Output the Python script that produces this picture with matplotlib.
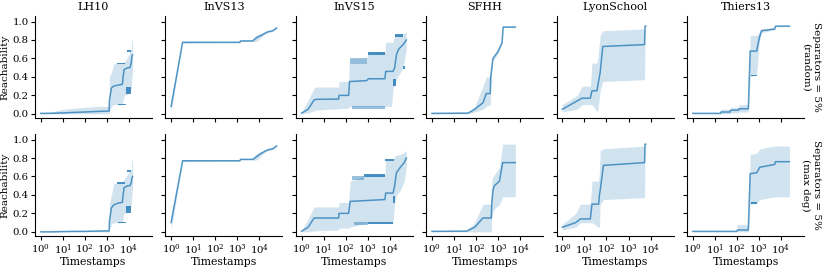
import matplotlib
matplotlib.use("Agg")
import matplotlib.pyplot as plt
import numpy as np

plt.rcParams['font.family'] = ['DejaVu Serif']
plt.rcParams['mathtext.fontset'] = 'dejavuserif'
plt.rcParams['font.size'] = 7.5

datasets = ["LH10", "InVS13", "InVS15", "SFHH", "LyonSchool", "Thiers13"]
row_labels = ["Separators = 5%\n(random)", "Separators = 5%\n(max deg)"]
xlabel = "Timestamps"
ylabel = "Reachability"
yticks = [0.0, 0.2, 0.4, 0.6, 0.8, 1.0]
xticks = [1, 10, 100, 1000, 10000]

# dark blocks: (t_start, t_end, y_low, y_high, opacity) where the band edge flickers densely

# ---------------- row 1: random separators ----------------
lh10_r_t = [1, 3, 10, 30, 100, 300, 1000, 1250, 1300, 1600, 2000, 3000, 5000, 5400, 6000, 9000, 11000, 12600, 13500, 14500]
lh10_r_mean = [0.005, 0.006, 0.01, 0.015, 0.02, 0.025, 0.03, 0.03, 0.15, 0.28, 0.30, 0.31, 0.32, 0.40, 0.48, 0.50, 0.50, 0.55, 0.62, 0.64]
lh10_r_hi = [0.01, 0.02, 0.05, 0.06, 0.07, 0.08, 0.08, 0.08, 0.40, 0.45, 0.54, 0.55, 0.55, 0.56, 0.56, 0.62, 0.68, 0.70, 0.78, 0.82]
lh10_r_lo = [0, 0, 0, 0, 0, 0, 0, 0, 0.02, 0.08, 0.10, 0.10, 0.10, 0.15, 0.20, 0.22, 0.25, 0.28, 0.40, 0.47]
lh10_r_dark = [(2900, 6300, 0.535, 0.555, 0.8), (3200, 7000, 0.095, 0.11, 0.8), (7000, 12500, 0.21, 0.29, 0.8), (8000, 12500, 0.675, 0.695, 0.8)]

invs13_r_t = [1, 3.3, 100, 1300, 1400, 5000, 5500, 8000, 12000, 20000, 25000, 40000, 60000]
invs13_r_mean = [0.08, 0.775, 0.775, 0.775, 0.79, 0.79, 0.80, 0.83, 0.85, 0.88, 0.89, 0.90, 0.93]
invs13_r_hi = [0.15, 0.785, 0.78, 0.78, 0.795, 0.80, 0.83, 0.86, 0.87, 0.89, 0.90, 0.91, 0.935]
invs13_r_lo = [0.03, 0.765, 0.77, 0.77, 0.785, 0.785, 0.78, 0.79, 0.83, 0.87, 0.88, 0.89, 0.925]
invs13_r_dark = []

invs15_r_t = [1, 2, 3.7, 4.4, 48, 50, 136, 150, 900, 1070, 6000, 6500, 12000, 14000, 16600, 20000, 25000, 30000, 40000, 56000]
invs15_r_mean = [0.007, 0.05, 0.15, 0.157, 0.16, 0.20, 0.20, 0.35, 0.36, 0.38, 0.38, 0.46, 0.46, 0.46, 0.50, 0.64, 0.70, 0.72, 0.75, 0.80]
invs15_r_hi = [0.01, 0.15, 0.28, 0.29, 0.29, 0.35, 0.35, 0.60, 0.61, 0.67, 0.67, 0.775, 0.775, 0.775, 0.85, 0.86, 0.86, 0.86, 0.87, 0.88]
invs15_r_lo = [0.0, 0.01, 0.03, 0.04, 0.055, 0.057, 0.06, 0.08, 0.08, 0.08, 0.08, 0.08, 0.08, 0.28, 0.32, 0.38, 0.42, 0.45, 0.50, 0.70]
invs15_r_dark = [(1070, 6000, 0.635, 0.665, 0.8), (160, 900, 0.54, 0.605, 0.35), (200, 6000, 0.055, 0.08, 0.45),
                 (16600, 40000, 0.835, 0.86, 0.8), (14000, 20000, 0.30, 0.38, 0.8), (40000, 48000, 0.49, 0.52, 0.8)]

sfhh_r_t = [1, 44, 87, 205, 290, 440, 460, 580, 960, 1500, 1700, 6000]
sfhh_r_mean = [0.005, 0.008, 0.05, 0.12, 0.22, 0.22, 0.40, 0.60, 0.67, 0.77, 0.94, 0.94]
sfhh_r_hi = [0.01, 0.015, 0.08, 0.30, 0.40, 0.40, 0.45, 0.62, 0.69, 0.78, 0.945, 0.945]
sfhh_r_lo = [0.0, 0.0, 0.02, 0.05, 0.08, 0.10, 0.30, 0.57, 0.65, 0.76, 0.935, 0.935]
sfhh_r_dark = []

lyon_r_t = [1, 4.7, 7.9, 18.6, 22, 37, 40, 52, 68, 5300, 5600, 6000]
lyon_r_mean = [0.05, 0.14, 0.17, 0.17, 0.25, 0.25, 0.30, 0.45, 0.73, 0.75, 0.95, 0.95]
lyon_r_hi = [0.10, 0.20, 0.30, 0.30, 0.55, 0.55, 0.60, 0.85, 0.90, 0.92, 0.955, 0.955]
lyon_r_lo = [0.02, 0.05, 0.10, 0.10, 0.10, 0.03, 0.03, 0.25, 0.35, 0.37, 0.945, 0.945]
lyon_r_dark = []

thiers_r_t = [1, 18, 19, 50, 52, 120, 125, 330, 400, 790, 1030, 1300, 5200, 5600, 24000]
thiers_r_mean = [0.005, 0.005, 0.02, 0.02, 0.04, 0.04, 0.055, 0.055, 0.68, 0.68, 0.82, 0.90, 0.92, 0.95, 0.95]
thiers_r_hi = [0.005, 0.005, 0.05, 0.05, 0.07, 0.07, 0.10, 0.10, 0.85, 0.85, 0.88, 0.92, 0.93, 0.955, 0.955]
thiers_r_lo = [0.0, 0.0, 0.0, 0.0, 0.01, 0.01, 0.02, 0.02, 0.40, 0.42, 0.78, 0.88, 0.91, 0.945, 0.945]
thiers_r_dark = [(450, 790, 0.405, 0.425, 0.8)]

# ---------------- row 2: max-degree separators ----------------
lh10_m_t = [1, 3, 10, 30, 100, 300, 1000, 1250, 1300, 1600, 2000, 3000, 5000, 5400, 6000, 9000, 11000, 12600, 13500, 14500]
lh10_m_mean = [0.0, 0.0, 0.003, 0.005, 0.005, 0.008, 0.01, 0.01, 0.12, 0.26, 0.29, 0.31, 0.32, 0.40, 0.48, 0.50, 0.50, 0.53, 0.58, 0.60]
lh10_m_hi = [0.0, 0.005, 0.01, 0.012, 0.015, 0.015, 0.02, 0.02, 0.30, 0.40, 0.52, 0.53, 0.53, 0.55, 0.57, 0.63, 0.66, 0.67, 0.76, 0.80]
lh10_m_lo = [0, 0, 0, 0, 0, 0, 0, 0, 0.02, 0.08, 0.10, 0.10, 0.10, 0.15, 0.20, 0.22, 0.25, 0.28, 0.40, 0.45]
lh10_m_dark = [(2900, 6300, 0.515, 0.535, 0.8), (3200, 7000, 0.095, 0.11, 0.8), (7000, 12500, 0.20, 0.28, 0.8), (8000, 12500, 0.645, 0.665, 0.8)]

invs13_m_t = invs13_r_t
invs13_m_mean = [0.10, 0.77, 0.77, 0.77, 0.785, 0.785, 0.79, 0.82, 0.85, 0.88, 0.89, 0.90, 0.93]
invs13_m_hi = [0.18, 0.78, 0.775, 0.775, 0.79, 0.795, 0.82, 0.85, 0.87, 0.89, 0.90, 0.91, 0.935]
invs13_m_lo = [0.03, 0.76, 0.765, 0.765, 0.78, 0.78, 0.775, 0.78, 0.83, 0.87, 0.88, 0.89, 0.925]
invs13_m_dark = []

invs15_m_t = [1, 2, 3.7, 48, 50, 136, 160, 1000, 6000, 6500, 14000, 16600, 20000, 30000, 45000, 56000]
invs15_m_mean = [0.007, 0.05, 0.15, 0.15, 0.20, 0.20, 0.33, 0.34, 0.35, 0.42, 0.42, 0.50, 0.64, 0.70, 0.75, 0.80]
invs15_m_hi = [0.01, 0.14, 0.27, 0.27, 0.32, 0.32, 0.55, 0.62, 0.62, 0.78, 0.78, 0.82, 0.83, 0.84, 0.86, 0.88]
invs15_m_lo = [0.0, 0.0, 0.01, 0.02, 0.04, 0.04, 0.05, 0.10, 0.10, 0.10, 0.10, 0.32, 0.40, 0.45, 0.55, 0.70]
invs15_m_dark = [(700, 6000, 0.595, 0.625, 0.8), (200, 700, 0.56, 0.60, 0.45), (230, 1000, 0.07, 0.105, 0.45),
                 (1000, 14000, 0.085, 0.11, 0.8), (6000, 16000, 0.765, 0.79, 0.8), (14000, 18000, 0.31, 0.39, 0.8)]

sfhh_m_t = [1, 37, 87, 205, 490, 510, 580, 680, 1150, 1600, 6000]
sfhh_m_mean = [0.005, 0.008, 0.05, 0.15, 0.15, 0.30, 0.45, 0.50, 0.55, 0.75, 0.75]
sfhh_m_hi = [0.01, 0.015, 0.10, 0.30, 0.30, 0.55, 0.60, 0.62, 0.70, 0.95, 0.95]
sfhh_m_lo = [0.0, 0.0, 0.0, 0.0, 0.0, 0.15, 0.22, 0.25, 0.30, 0.38, 0.38]
sfhh_m_dark = []

lyon_m_t = [1, 4, 6.6, 18.6, 22, 44, 48, 52, 73, 5300, 5600, 6000]
lyon_m_mean = [0.05, 0.10, 0.14, 0.14, 0.30, 0.30, 0.40, 0.45, 0.72, 0.75, 0.95, 0.95]
lyon_m_hi = [0.08, 0.20, 0.30, 0.30, 0.55, 0.55, 0.65, 0.88, 0.90, 0.93, 0.955, 0.955]
lyon_m_lo = [0.02, 0.05, 0.10, 0.10, 0.10, 0.05, 0.05, 0.30, 0.35, 0.37, 0.945, 0.945]
lyon_m_dark = []

thiers_m_t = [1, 100, 105, 330, 400, 790, 1100, 5200, 5600, 24000]
thiers_m_mean = [0.005, 0.005, 0.02, 0.02, 0.63, 0.64, 0.70, 0.73, 0.76, 0.76]
thiers_m_hi = [0.005, 0.005, 0.08, 0.08, 0.84, 0.85, 0.90, 0.93, 0.93, 0.93]
thiers_m_lo = [0.0, 0.0, 0.0, 0.0, 0.30, 0.31, 0.35, 0.38, 0.38, 0.38]
thiers_m_dark = [(450, 790, 0.305, 0.325, 0.8)]

rows = [
    [(lh10_r_t, lh10_r_mean, lh10_r_lo, lh10_r_hi, lh10_r_dark),
     (invs13_r_t, invs13_r_mean, invs13_r_lo, invs13_r_hi, invs13_r_dark),
     (invs15_r_t, invs15_r_mean, invs15_r_lo, invs15_r_hi, invs15_r_dark),
     (sfhh_r_t, sfhh_r_mean, sfhh_r_lo, sfhh_r_hi, sfhh_r_dark),
     (lyon_r_t, lyon_r_mean, lyon_r_lo, lyon_r_hi, lyon_r_dark),
     (thiers_r_t, thiers_r_mean, thiers_r_lo, thiers_r_hi, thiers_r_dark)],
    [(lh10_m_t, lh10_m_mean, lh10_m_lo, lh10_m_hi, lh10_m_dark),
     (invs13_m_t, invs13_m_mean, invs13_m_lo, invs13_m_hi, invs13_m_dark),
     (invs15_m_t, invs15_m_mean, invs15_m_lo, invs15_m_hi, invs15_m_dark),
     (sfhh_m_t, sfhh_m_mean, sfhh_m_lo, sfhh_m_hi, sfhh_m_dark),
     (lyon_m_t, lyon_m_mean, lyon_m_lo, lyon_m_hi, lyon_m_dark),
     (thiers_m_t, thiers_m_mean, thiers_m_lo, thiers_m_hi, thiers_m_dark)],
]

color = "#1f77b4"
W, H = 830, 267
fig = plt.figure(figsize=(W / 100, H / 100), dpi=100)

left0, width, pitch = 35, 117, 130.4
row_boxes = [(16, 118), (134, 236)]

for r in range(2):
    top_px, bot_px = row_boxes[r]
    for c in range(6):
        lx = left0 + c * pitch
        ax = fig.add_axes([lx / W, 1 - bot_px / H, width / W, (bot_px - top_px) / H])
        t, m, lo, hi, dark = rows[r][c]
        ax.fill_between(t, lo, hi, color=color, alpha=0.2, linewidth=0)
        for (x0, x1, y0, y1, a) in dark:
            ax.fill_between([x0, x1], [y0, y0], [y1, y1], color=color, alpha=a, linewidth=0)
        ax.plot(t, m, color=color, lw=1.1, alpha=0.75)
        ax.set_xscale('log')
        ax.set_xlim(0.55, 1.1e5)
        ax.set_ylim(-0.045, 1.06)
        ax.set_xticks(xticks)
        ax.set_yticks(yticks)
        for s in ['top', 'right']:
            ax.spines[s].set_visible(False)
        ax.spines['left'].set_linewidth(0.8)
        ax.spines['bottom'].set_linewidth(0.8)
        ax.tick_params(axis='both', which='major', length=3, width=0.8, labelsize=7.3, pad=1.5)
        ax.tick_params(axis='x', which='minor', length=1.8, width=0.6)
        if c > 0:
            ax.tick_params(axis='y', labelleft=False)
        else:
            ax.set_ylabel(ylabel, fontsize=7.5, labelpad=2)
        if r == 0:
            ax.tick_params(axis='x', labelbottom=False)
            ax.set_title(datasets[c], fontsize=8, pad=4)
        else:
            ax.set_xlabel(xlabel, fontsize=7.8, labelpad=0)
        if c == 5:
            ax.text((811 - lx) / width, 0.5, row_labels[r], transform=ax.transAxes, rotation=270,
                    ha='center', va='center', multialignment='center', fontsize=7.5)

fig.savefig("out.png", dpi=100)
